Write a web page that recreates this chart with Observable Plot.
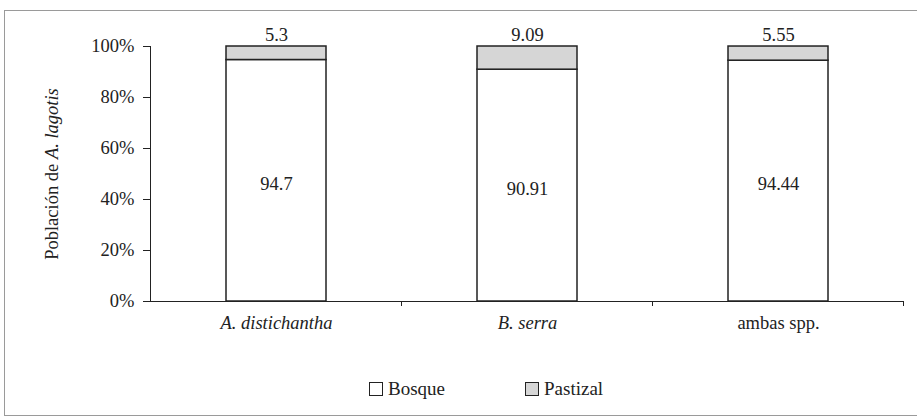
<!DOCTYPE html>
<html><head><meta charset="utf-8">
<script src="https://cdn.jsdelivr.net/npm/d3@7"></script>
<script src="https://cdn.jsdelivr.net/npm/@observablehq/plot@0.6"></script>
<style>
html,body{margin:0;padding:0;background:#fff;overflow:hidden;width:917px;height:418px}
#frame{position:absolute;left:4px;top:10px;width:930px;height:404px;border:1px solid #9a9a9a;border-right:none}
#chart{position:absolute;left:0;top:0}
#legend{position:absolute;top:378px;left:369px;display:flex;gap:80px;font-family:"Liberation Serif","Times New Roman",Times,"DejaVu Serif",serif;font-size:19px;color:#222}
.item{display:flex;align-items:center}
.sw{width:14px;height:14px;border:1.5px solid #222;box-sizing:border-box;margin-right:5px}
</style></head><body>
<div id="frame"></div><div id="chart"></div><div id="legend"></div>
<script>
const categories = ["A. distichantha", "B. serra", "ambas spp."];
const italicCategories = ["A. distichantha", "B. serra"];
const series = ["Bosque", "Pastizal"];
const seriesColors = ["#ffffff", "#d6d6d6"];
const bosque = [94.7, 90.91, 94.44];
const pastizal = [5.3, 9.09, 5.55];
const yTicks = [0, 20, 40, 60, 80, 100];
const yLabelPlain = "Población de ";
const yLabelItalic = "A. lagotis";

const rows = [];
categories.forEach((c, i) => {
  rows.push({cat: c, serie: "Bosque", value: bosque[i]});
  rows.push({cat: c, serie: "Pastizal", value: pastizal[i]});
});

const ink = "#222";
const plot = Plot.plot({
  width: 917, height: 350,
  marginLeft: 150, marginRight: 13, marginTop: 46, marginBottom: 49,
  style: {fontFamily: '"Liberation Serif", "Times New Roman", Times, "DejaVu Serif", serif', fontSize: "18.5px", color: ink, background: "transparent"},
  x: {domain: categories, paddingInner: 0.6, paddingOuter: 0.3, label: null},
  y: {domain: [0, 100]},
  color: {domain: series, range: seriesColors},
  marks: [
    Plot.barY(rows, Plot.stackY({x: "cat", y: "value", fill: "serie", stroke: ink, strokeWidth: 1.5})),
    Plot.text(rows, Plot.stackY({x: "cat", y: "value", z: "serie", text: d => d.serie === "Bosque" ? String(d.value) : null, dy: 3})),
    Plot.text(rows, Plot.stackY2({x: "cat", y: "value", z: "serie", text: d => d.serie === "Pastizal" ? String(d.value) : null, dy: -11})),
    Plot.ruleY([0], {stroke: ink, strokeWidth: 1}),
    Plot.frame({anchor: "left", stroke: ink}),
    Plot.axisY({ticks: yTicks, tickFormat: d => d + "%", tickSize: 7, tickPadding: 9, label: yLabelPlain + yLabelItalic, labelAnchor: "center", labelArrow: "none", labelOffset: 106}),
    Plot.axisX({tickSize: 0, tickPadding: 14, label: null})
  ]
});
document.getElementById("chart").appendChild(plot);

const svg = d3.select(plot);
// italic category labels
svg.selectAll('g[aria-label="x-axis tick label"] text').each(function() {
  const t = d3.select(this);
  if (italicCategories.includes(t.text())) t.attr("font-style", "italic");
});
// y label with italic species name
svg.selectAll('g[aria-label="y-axis label"] text').each(function() {
  const t = d3.select(this);
  t.text(null);
  t.append("tspan").text(yLabelPlain);
  t.append("tspan").attr("font-style", "italic").text(yLabelItalic);
});
// boundary ticks on x axis
const sx = plot.scale("x"), sy = plot.scale("y");
const y0 = sy.apply(0);
const g = svg.append("g").attr("stroke", ink);
categories.forEach(c => {
  const xb = sx.apply(c) + sx.bandwidth / 2 + sx.step / 2;
  g.append("line").attr("x1", xb).attr("x2", xb).attr("y1", y0).attr("y2", y0 + 5);
});

// legend
const leg = d3.select("#legend");
series.forEach((s, i) => {
  const it = leg.append("div").attr("class", "item");
  it.append("div").attr("class", "sw").style("background", seriesColors[i]);
  it.append("span").text(s);
});
</script>
</body></html>
